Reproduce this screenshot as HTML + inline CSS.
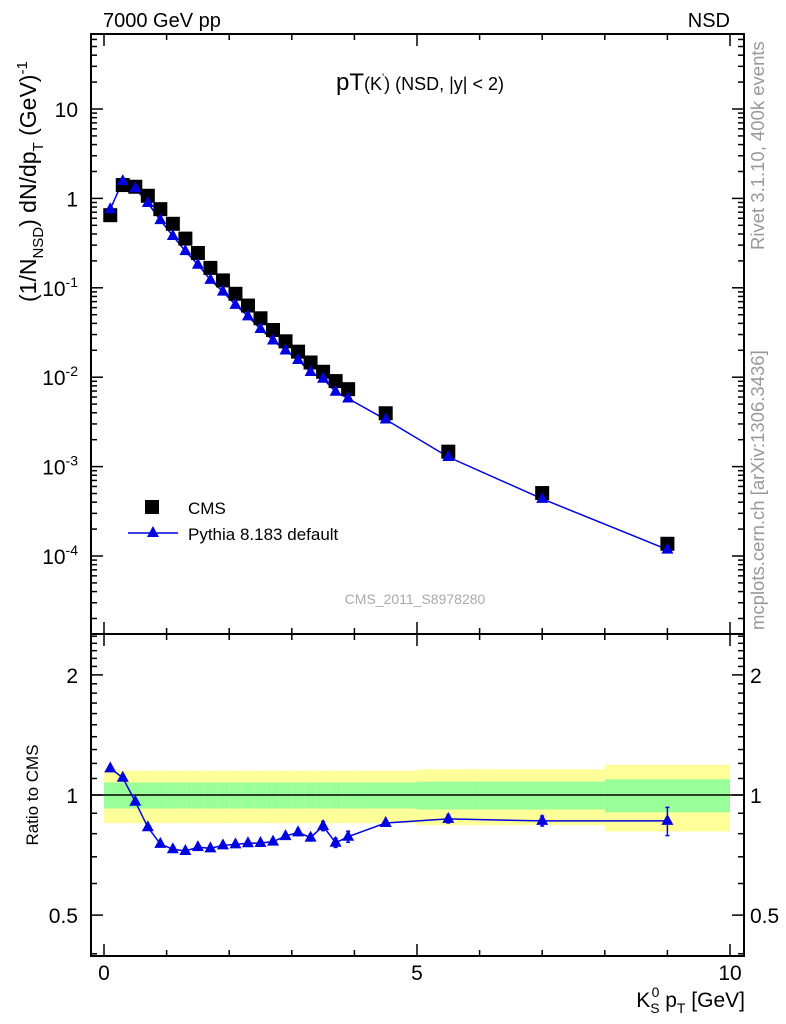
<!DOCTYPE html>
<html><head><meta charset="utf-8"><style>
body{margin:0;background:#fff}
svg{display:block;font-family:"Liberation Sans",sans-serif}
</style></head><body>
<svg id="c" width="786" height="1024" xmlns="http://www.w3.org/2000/svg">
<g id="bands"></g>
<g id="marks"></g>
<g id="axes"></g>
<text x="103" y="27" font-size="20">7000 GeV pp</text>
<text x="730" y="27" font-size="20" text-anchor="end">NSD</text>
<text x="420" y="90" font-size="24" text-anchor="middle">pT<tspan font-size="18">(K</tspan><tspan font-size="11" dy="-9">'</tspan><tspan font-size="18" dy="9">) (NSD, |y| &lt; 2)</tspan></text>
<text transform="translate(36,302) rotate(-90)" font-size="23">(1/N<tspan font-size="15" dy="7">NSD</tspan><tspan dy="-7">) dN/dp</tspan><tspan font-size="15" dy="7">T</tspan><tspan dy="-7"> (GeV)</tspan><tspan font-size="15" dy="-9">-1</tspan></text>
<text transform="translate(764,250) rotate(-90)" font-size="18.5" fill="#999">Rivet 3.1.10,  400k events</text>
<text transform="translate(764,630) rotate(-90)" font-size="18.5" fill="#999">mcplots.cern.ch [arXiv:1306.3436]</text>
<text x="415" y="604" font-size="14" fill="#aaa" text-anchor="middle">CMS_2011_S8978280</text>
<rect x="145" y="500" width="14" height="14" fill="#000"/>
<text x="188" y="514" font-size="17">CMS</text>
<line x1="128" y1="533" x2="178" y2="533" stroke="#0000e0" stroke-width="1.5"/>
<polygon points="153,526 159,537 147,537" fill="#0000e0"/>
<text x="188" y="540" font-size="17">Pythia 8.183 default</text>
<text transform="translate(38,795) rotate(-90)" font-size="17" text-anchor="middle">Ratio to CMS</text>
<text x="745" y="1007" font-size="21" text-anchor="end">K<tspan font-size="14" dy="6">S</tspan><tspan font-size="14" dx="-8" dy="-16">0</tspan><tspan dy="10"> p</tspan><tspan font-size="14" dy="6">T</tspan><tspan dy="-6"> [GeV]</tspan></text>
</svg>
<script>
const xVals=[0.1,0.3,0.5,0.7,0.9,1.1,1.3,1.5,1.7,1.9,2.1,2.3,2.5,2.7,2.9,3.1,3.3,3.5,3.7,3.9,4.5,5.5,7.0,9.0];
const cmsVals=[0.649,1.41,1.35,1.07,0.758,0.52,0.355,0.245,0.167,0.121,0.0857,0.0633,0.0456,0.0337,0.0252,0.0193,0.0146,0.0115,0.00905,0.00735,0.00395,0.00147,0.000506,0.000137];
const ratioVals=[1.166,1.105,0.962,0.830,0.754,0.731,0.724,0.740,0.735,0.748,0.752,0.757,0.758,0.764,0.789,0.806,0.782,0.836,0.759,0.786,0.851,0.871,0.861,0.861];
const ratioErr=[0.005,0.005,0.005,0.005,0.005,0.005,0.005,0.005,0.005,0.005,0.005,0.005,0.006,0.006,0.012,0.015,0.015,0.022,0.02,0.025,0.01,0.02,0.025,0.07];
const binEdges=[0,0.2,0.4,0.6,0.8,1.0,1.2,1.4,1.6,1.8,2.0,2.2,2.4,2.6,2.8,3.0,3.2,3.4,3.6,3.8,4.0,5,6,8,10];
const yellowHalf=[0.15,0.15,0.15,0.15,0.15,0.15,0.15,0.15,0.15,0.15,0.15,0.15,0.15,0.15,0.15,0.15,0.15,0.15,0.15,0.15,0.15,0.16,0.16,0.19];
const greenHalf=[0.075,0.075,0.075,0.075,0.075,0.075,0.075,0.075,0.075,0.075,0.075,0.075,0.075,0.075,0.075,0.075,0.075,0.075,0.075,0.075,0.075,0.08,0.08,0.095];
const decadeTicks=[10,1,0.1,0.01,0.001,0.0001];
const decadeLabels=["10","1","10^-1","10^-2","10^-3","10^-4"];
const ratioTicks=[0.5,1,2];
const xTicks=[0,5,10];

const NS="http://www.w3.org/2000/svg";
const L=91,R=744,T1=34,B1=634,T2=634,B2=956;
const X=v=>104+v*62.6;
const Y1=v=>198.4-89.4*Math.log10(v);
const Y2=v=>795-399*Math.log10(v);
function mk(tag,a,p){const e=document.createElementNS(NS,tag);for(const k in a)e.setAttribute(k,a[k]);(p||document.getElementById('axes')).appendChild(e);return e;}

const bg=document.getElementById('bands');
for(let i=0;i<binEdges.length-1;i++){
  const x1=X(binEdges[i]),x2=X(binEdges[i+1]);
  const y=mk('rect',{x:x1,y:Y2(1+yellowHalf[i]),width:x2-x1,height:Y2(1-yellowHalf[i])-Y2(1+yellowHalf[i]),fill:'#ffff99'},bg);
  
  
  const g=mk('rect',{x:x1,y:Y2(1+greenHalf[i]),width:x2-x1,height:Y2(1-greenHalf[i])-Y2(1+greenHalf[i]),fill:'#99ff99'},bg);
  
  
}
mk('line',{x1:L,x2:R,y1:Y2(1),y2:Y2(1),stroke:'#000','stroke-width':1.5},bg);

const mg=document.getElementById('marks');
const blue='#0000e0';
const mcVals=cmsVals.map((c,i)=>c*ratioVals[i]);
const pl=mk('polyline',{points:xVals.map((x,i)=>X(x)+','+Y1(mcVals[i])).join(' '),fill:'none',stroke:blue,'stroke-width':1.5},mg);


xVals.forEach((x,i)=>{
  const s=mk('rect',{x:X(x)-7,y:Y1(cmsVals[i])-7,width:14,height:14,fill:'#000'},mg);
  
  
});
function tri(cx,cy){return `${cx},${cy-7} ${cx+6},${cy+4} ${cx-6},${cy+4}`;}
xVals.forEach((x,i)=>{
  const t=mk('polygon',{points:tri(X(x),Y1(mcVals[i])),fill:blue},mg);
  
  
});
const rl=mk('polyline',{points:xVals.map((x,i)=>X(x)+','+Y2(ratioVals[i])).join(' '),fill:'none',stroke:blue,'stroke-width':1.5},mg);


xVals.forEach((x,i)=>{
  const cx=X(x),yt=Y2(ratioVals[i]+ratioErr[i]),yb=Y2(ratioVals[i]-ratioErr[i]);
  mk('line',{x1:cx,x2:cx,y1:yt,y2:yb,stroke:blue,'stroke-width':1.5},mg);
  mk('line',{x1:cx-2,x2:cx+2,y1:yt,y2:yt,stroke:blue,'stroke-width':1.5},mg);
  mk('line',{x1:cx-2,x2:cx+2,y1:yb,y2:yb,stroke:blue,'stroke-width':1.5},mg);
  const t=mk('polygon',{points:tri(cx,Y2(ratioVals[i])),fill:blue},mg);
  
  
});

[[T1,B1],[T2,B2]].forEach(([t,b])=>{
  const f=mk('rect',{x:L,y:t,width:R-L,height:b-t,fill:'none',stroke:'#000','stroke-width':2});
  
  
});
for(let v=0;v<=10;v++){
  const len=v%5===0?12:6;
  [[T1,B1],[T2,B2]].forEach(([t,b])=>{
    mk('line',{x1:X(v),x2:X(v),y1:b,y2:b-len,stroke:'#000','stroke-width':1.5});
    mk('line',{x1:X(v),x2:X(v),y1:t,y2:t+len,stroke:'#000','stroke-width':1.5});
  });
}
xTicks.forEach(v=>{
  const e=mk('text',{x:X(v),y:980,'font-size':21,'text-anchor':'middle'});e.textContent=v;
  
  
});
for(let d=-5;d<=1;d++){for(let m=1;m<10;m++){const v=m*Math.pow(10,d);const y=Y1(v);if(y<T1||y>B1)continue;const len=m===1?12:6;
  mk('line',{x1:L,x2:L+len,y1:y,y2:y,stroke:'#000','stroke-width':1.5});
  mk('line',{x1:R,x2:R-len,y1:y,y2:y,stroke:'#000','stroke-width':1.5});}}
decadeTicks.forEach((v,i)=>{
  const lab=decadeLabels[i];
  const e=mk('text',{x:78,y:Y1(v)+8,'font-size':21,'text-anchor':'end'});
  
  
  if(lab.indexOf('^')<0){e.textContent=lab;}
  else{const p=lab.split('^');e.textContent=p[0];const s=document.createElementNS(NS,'tspan');s.setAttribute('font-size',14);s.setAttribute('dy',-9);s.textContent=p[1];e.appendChild(s);}
});
for(let k=4;k<=25;k++){const v=k/10;const y=Y2(v);if(y<T2||y>B2)continue;const maj=ratioTicks.indexOf(v)>=0;const len=maj?12:6;
  mk('line',{x1:L,x2:L+len,y1:y,y2:y,stroke:'#000','stroke-width':1.5});
  mk('line',{x1:R,x2:R-len,y1:y,y2:y,stroke:'#000','stroke-width':1.5});}
ratioTicks.forEach(v=>{
  const a=mk('text',{x:78,y:Y2(v)+8,'font-size':21,'text-anchor':'end'});a.textContent=v;
  
  
  const b=mk('text',{x:750,y:Y2(v)+8,'font-size':21});b.textContent=v;
  
  
});
</script>
</body></html>
